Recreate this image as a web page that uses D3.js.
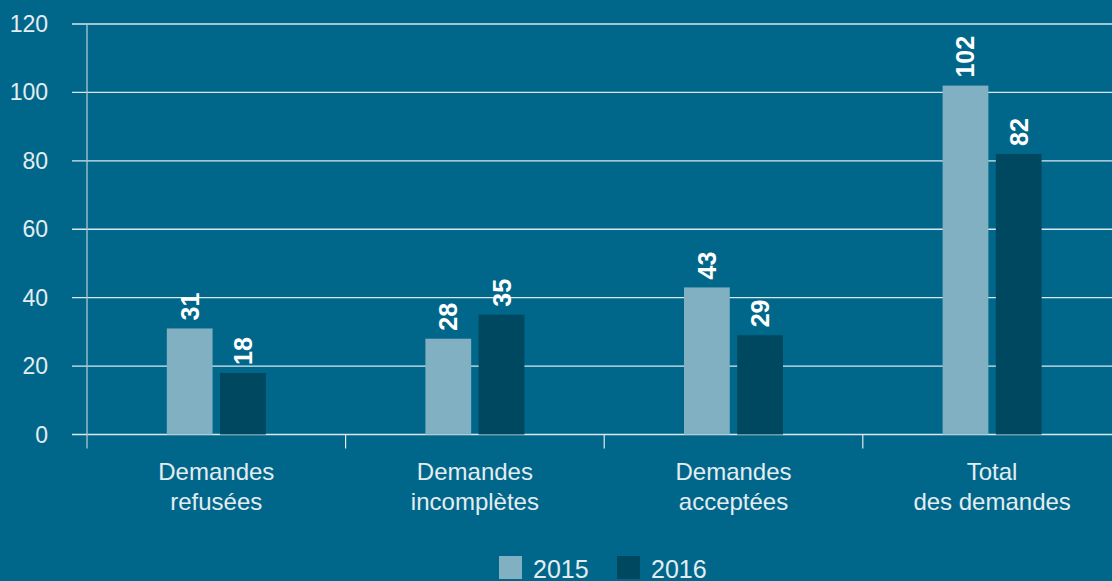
<!DOCTYPE html>
<html>
<head>
<meta charset="utf-8">
<script src="https://cdn.jsdelivr.net/npm/d3@7"></script>
<style>
  html, body { margin: 0; padding: 0; background: #01678a; }
  svg { display: block; }
  text { font-family: "Liberation Sans", Arial, sans-serif; }
</style>
</head>
<body>
<div id="chart"></div>
<script>
// chart data
var categories = [["Demandes", "refusées"], ["Demandes", "incomplètes"], ["Demandes", "acceptées"], ["Total", "des demandes"]];
var years = ["2015", "2016"];
var values2015 = [31, 28, 43, 102];
var values2016 = [18, 35, 29, 82];
var yTicks = [0, 20, 40, 60, 80, 100, 120];
var colors = ["#80b0c1", "#00485f"];

var W = 1112, H = 581;
var margin = {top: 24, left: 87, bottom: 147};
var plotBottom = H - margin.bottom + 0.5;

var svg = d3.select("#chart").append("svg")
    .attr("width", W)
    .attr("height", H);

var x = d3.scaleBand()
    .domain(d3.range(categories.length))
    .range([margin.left, margin.left + 258.6 * categories.length]);

var x1 = d3.scaleBand()
    .domain(years)
    .range([0, 99])
    .paddingInner(0.14);

var y = d3.scaleLinear()
    .domain([0, 120])
    .range([plotBottom, margin.top]);

// gridlines
svg.selectAll(".grid")
    .data(yTicks)
    .enter().append("line")
    .attr("class", "grid")
    .attr("x1", 72)
    .attr("x2", W)
    .attr("y1", function(d){ return y(d); })
    .attr("y2", function(d){ return y(d); })
    .attr("stroke", "#ffffff")
    .attr("stroke-opacity", 0.85)
    .attr("stroke-width", 1.3);

// y axis labels
svg.selectAll(".ylab")
    .data(yTicks)
    .enter().append("text")
    .attr("class", "ylab")
    .attr("x", 48)
    .attr("y", function(d){ return y(d) + 8; })
    .attr("text-anchor", "end")
    .attr("fill", "#e4edf1")
    .style("font-size", "23px")
    .text(function(d){ return d; });

// y axis line
svg.append("line")
    .attr("x1", margin.left).attr("x2", margin.left)
    .attr("y1", margin.top).attr("y2", plotBottom + 14)
    .attr("stroke", "#a9c9d5")
    .attr("stroke-width", 1.3);

// category separators
svg.selectAll(".sep")
    .data(d3.range(1, categories.length))
    .enter().append("line")
    .attr("class", "sep")
    .attr("x1", function(i){ return x(i); })
    .attr("x2", function(i){ return x(i); })
    .attr("y1", plotBottom)
    .attr("y2", plotBottom + 14)
    .attr("stroke", "#e0ecf0")
    .attr("stroke-width", 1.2);

var groups = svg.selectAll(".grp")
    .data(categories)
    .enter().append("g")
    .attr("class", "grp")
    .attr("transform", function(d, i){
        return "translate(" + (x(i) + x.bandwidth() / 2 - 49.5) + ",0)";
    });

groups.each(function(d, i){
    var g = d3.select(this);
    var vals = [values2015[i], values2016[i]];
    vals.forEach(function(v, k){
        var bx = x1(years[k]);
        g.append("rect")
            .attr("x", bx)
            .attr("width", x1.bandwidth())
            .attr("y", y(v))
            .attr("height", plotBottom - y(v))
            .attr("fill", colors[k]);
        g.append("text")
            .attr("transform", "translate(" + (bx + x1.bandwidth() / 2 + 9) + "," + (y(v) - 8) + ") rotate(-90)")
            .attr("fill", "#ffffff")
            .style("font-size", "25px")
            .style("font-weight", "bold")
            .text(v);
    });
    // category label
    var t = g.append("text")
        .attr("x", 49.5)
        .attr("text-anchor", "middle")
        .attr("fill", "#e3edf1")
        .style("font-size", "24px");
    t.append("tspan").attr("x", 49.5).attr("y", 480).text(d[0]);
    t.append("tspan").attr("x", 49.5).attr("y", 510).text(d[1]);
});

// legend
var legend = svg.selectAll(".leg")
    .data(years)
    .enter().append("g")
    .attr("class", "leg")
    .attr("transform", function(d, i){ return "translate(" + (499 + i * 118) + ",556)"; });
legend.append("rect")
    .attr("width", 23).attr("height", 23)
    .attr("fill", function(d, i){ return colors[i]; });
legend.append("text")
    .attr("x", 34)
    .attr("y", 22)
    .attr("fill", "#e3edf1")
    .style("font-size", "25px")
    .text(function(d){ return d; });
</script>
</body>
</html>
